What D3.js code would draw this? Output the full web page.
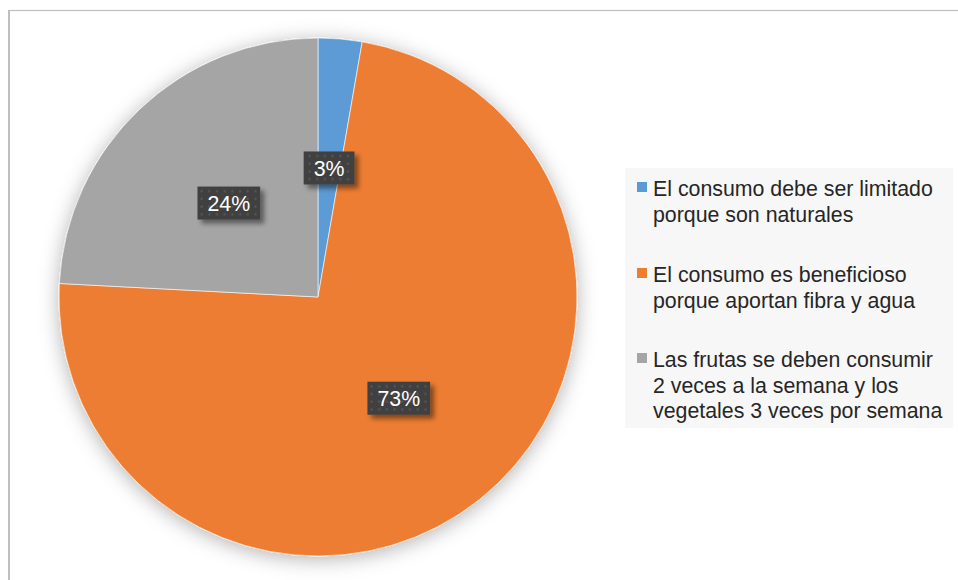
<!DOCTYPE html>
<html>
<head>
<meta charset="utf-8">
<script src="https://cdn.jsdelivr.net/npm/d3@7"></script>
<style>
  html, body { margin: 0; padding: 0; background: #ffffff; }
  svg { display: block; }
</style>
</head>
<body>
<div id="chart"></div>
<script>
// ---- data ----
const categories = [
  ["El consumo debe ser limitado", "porque son naturales"],
  ["El consumo es beneficioso", "porque aportan fibra y agua"],
  ["Las frutas se deben consumir", "2 veces a la semana y los", "vegetales 3 veces por semana"]
];
const values = [2.73, 73.1, 24.17];
const valueLabels = ["3%", "73%", "24%"];
const colors = ["#5b9bd5", "#ed7d31", "#a5a5a5"];

// ---- layout ----
const W = 958, H = 580;
const cx = 318, cy = 297, R = 259;
const font = "'Liberation Sans', Arial, sans-serif";

const svg = d3.select("#chart").append("svg").attr("width", W).attr("height", H);
const defs = svg.append("defs");

// pie soft shadow
const f1 = defs.append("filter").attr("id", "pieShadow")
  .attr("x", "-30%").attr("y", "-30%").attr("width", "160%").attr("height", "160%");
f1.append("feGaussianBlur").attr("in", "SourceAlpha").attr("stdDeviation", 10).attr("result", "b");
f1.append("feOffset").attr("in", "b").attr("dx", 0).attr("dy", 3).attr("result", "o");
f1.append("feFlood").attr("flood-color", "#000").attr("flood-opacity", 0.3).attr("result", "c");
f1.append("feComposite").attr("in", "c").attr("in2", "o").attr("operator", "in").attr("result", "s");
const m1 = f1.append("feMerge");
m1.append("feMergeNode").attr("in", "s");
m1.append("feMergeNode").attr("in", "SourceGraphic");

// label box shadow
const f2 = defs.append("filter").attr("id", "boxShadow")
  .attr("x", "-40%").attr("y", "-40%").attr("width", "180%").attr("height", "200%");
f2.append("feGaussianBlur").attr("in", "SourceAlpha").attr("stdDeviation", 2.5).attr("result", "b");
f2.append("feOffset").attr("in", "b").attr("dx", 4).attr("dy", 4).attr("result", "o");
f2.append("feFlood").attr("flood-color", "#000").attr("flood-opacity", 0.45).attr("result", "c");
f2.append("feComposite").attr("in", "c").attr("in2", "o").attr("operator", "in").attr("result", "s");
const m2 = f2.append("feMerge");
m2.append("feMergeNode").attr("in", "s");
m2.append("feMergeNode").attr("in", "SourceGraphic");

// dotted pattern for label boxes
const pat = defs.append("pattern").attr("id", "dots")
  .attr("patternUnits", "userSpaceOnUse").attr("width", 7.7).attr("height", 7.7);
pat.append("rect").attr("width", 7.7).attr("height", 7.7).attr("fill", "#404040");
pat.append("rect").attr("x", 2.5).attr("y", 2.5).attr("width", 2).attr("height", 2).attr("fill", "#5a5a5a");

// chart border (left and top visible)
svg.append("rect").attr("x", 9).attr("y", 10.5).attr("width", W).attr("height", H)
  .attr("fill", "none").attr("stroke", "#bfbfbf").attr("stroke-width", 1.2);
svg.append("line").attr("x1", 9).attr("x2", 9).attr("y1", 10).attr("y2", H)
  .attr("stroke", "#bfbfbf").attr("stroke-width", 2);

// ---- pie ----
const pie = d3.pie().sort(null).value(d => d)(values);
const arc = d3.arc().innerRadius(0).outerRadius(R);
const g = svg.append("g").attr("transform", `translate(${cx},${cy})`);
g.append("g").attr("filter", "url(#pieShadow)")
  .selectAll("path").data(pie).join("path")
  .attr("d", arc)
  .attr("fill", (d, i) => colors[i])
  .attr("stroke", "#ffffff").attr("stroke-width", 0.6);

// ---- data labels ----
const lg = g.selectAll("g.lbl").data(pie).join("g").attr("class", "lbl")
  .attr("transform", d => `translate(${arc.centroid(d)})`);
lg.each(function (d, i) {
  const sel = d3.select(this);
  const t = sel.append("text").text(valueLabels[i])
    .attr("font-family", font).attr("font-size", 21.33)
    .attr("fill", "#ffffff").attr("text-anchor", "middle")
    .attr("dy", "0.36em");
  const w = t.node().getComputedTextLength() + 20;
  sel.insert("rect", "text")
    .attr("x", -w / 2).attr("y", -16.5).attr("width", w).attr("height", 33)
    .attr("fill", "url(#dots)").attr("filter", "url(#boxShadow)");
});

// ---- legend ----
const legend = svg.append("g");
legend.append("rect").attr("x", 625).attr("y", 168).attr("width", 328).attr("height", 260)
  .attr("fill", "#f7f7f7");
const groupBase = [196, 282, 367];
const lineH = 25.5;
categories.forEach((lines, i) => {
  const b = groupBase[i];
  legend.append("rect").attr("x", 637).attr("y", b - 14).attr("width", 10).attr("height", 10)
    .attr("fill", colors[i]);
  const t = legend.append("text").attr("font-family", font).attr("font-size", 21.33)
    .attr("fill", "#262626");
  lines.forEach((ln, j) => {
    t.append("tspan").attr("x", 653).attr("y", b + j * lineH).text(ln);
  });
});
</script>
</body>
</html>
